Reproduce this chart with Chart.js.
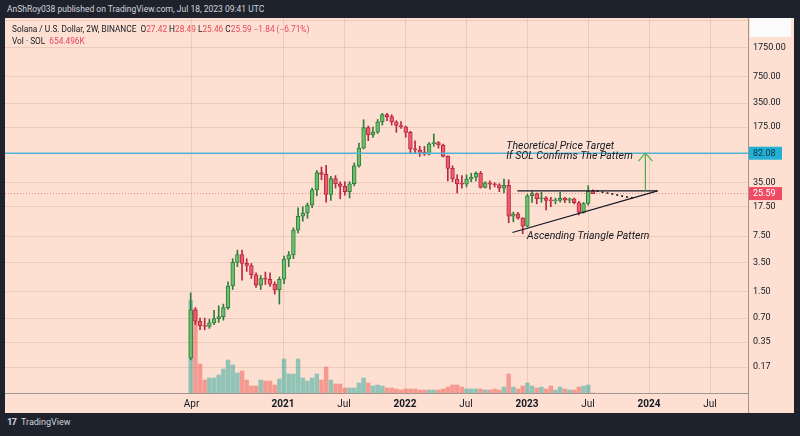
<!DOCTYPE html>
<html>
<head>
<meta charset="utf-8">
<title>SOLUSD 2W</title>
<script src="https://cdn.jsdelivr.net/npm/chart.js@4.4.1/dist/chart.umd.min.js"></script>
<style>
  html, body { margin: 0; padding: 0; }
  body { width: 800px; height: 436px; background: #1e222d; position: relative; overflow: hidden; font-family: Roboto, "Noto Sans", sans-serif; }
  #header { position: absolute; left: 7px; top: 4px; font-size: 8.5px; color: #d1d4dc; white-space: nowrap; }
  #pane { position: absolute; left: 5px; top: 18px; width: 789px; height: 395px; background: #fde0d2; }
  #chart { position: absolute; left: 0; top: 0; }
  #legend { position: absolute; left: 7px; top: 5px; font-size: 8.3px; line-height: 12px; color: #131722; z-index: 2; white-space: nowrap; }
  #legend .dn { color: #e5485d; }
  #logo { position: absolute; left: 7px; top: 416px; font-size: 9px; color: #d1d4dc; }
  #logo b { font-size: 9.5px; margin-right: 3px; letter-spacing: -1px; }
</style>
</head>
<body>
<div id="header">AnShRoy038 published on TradingView.com, Jul 18, 2023 09:41 UTC</div>
<div id="pane">
  <div id="legend"></div>
  <canvas id="chart" width="789" height="395"></canvas>
</div>
<div id="logo"><b>17</b> TradingView</div>
<script>
// Solana / U.S. Dollar, 2W candles, Binance — first candle opens 30 Mar 2020
const firstCandle = Date.UTC(2020, 2, 30);
const twoWeeks = 14 * 24 * 3600 * 1000;

const opens = [
  0.22, 0.89, 0.64, 0.56, 0.55, 0.61, 0.69, 0.73, 0.95, 1.77,
  3.5, 4.4, 3.4, 3.2, 2.45, 1.82, 2.2, 2.15, 1.87, 1.58,
  2.15, 3.85, 4.35, 8.9, 13.3, 14.6, 18.4, 28.5, 47, 44.5,
  25, 39.5, 34, 31.5, 27, 34, 57, 95, 172, 139,
  151, 203, 250, 236, 203, 183, 176, 150, 93, 90,
  84, 80, 108, 112, 104, 75, 53, 39, 34, 33.5,
  39, 41, 46, 30.5, 35, 33.5, 33, 30, 32.5, 13.3,
  14.2, 12.6, 10, 24, 25.5, 22.0, 22.6, 21, 20.7, 21,
  22.3, 21.2, 22.0, 19.6, 14.8, 19.2, 27.42
];
const highs = [
  1.45, 0.95, 0.70, 0.70, 0.68, 0.88, 1.0, 1.05, 2.0, 3.9,
  5.0, 5.0, 3.9, 3.4, 2.6, 2.4, 2.65, 2.6, 2.0, 2.3,
  4.2, 4.8, 9.5, 17, 17.5, 19.5, 30, 50, 55, 58,
  42, 43, 36, 36, 36, 62, 110, 216, 180, 175,
  218, 260, 260, 250, 210, 204, 180, 155, 117, 100,
  100, 112, 143, 115, 107, 76, 57, 44, 43, 44,
  46, 48, 48.5, 36, 37, 35, 34, 38.8, 38, 15,
  14.9, 12.8, 25, 27.1, 26, 26.5, 23.5, 23, 22.5, 26.5,
  23, 22.5, 22.5, 20.5, 19.8, 32.1, 28.49
];
const lows = [
  0.21, 0.58, 0.50, 0.50, 0.52, 0.58, 0.62, 0.66, 0.9, 1.6,
  3.1, 2.1, 2.7, 2.2, 1.7, 1.6, 1.85, 1.75, 1.4, 1.05,
  1.9, 3.1, 3.9, 8.2, 11.5, 12.5, 17, 24, 38, 20,
  21, 30, 22, 24.5, 22.5, 32, 55, 93, 118, 130,
  145, 185, 210, 185, 150, 168, 130, 81, 82, 75,
  77, 78, 100, 95, 74, 37, 36, 26, 30, 31,
  36, 37, 30, 30, 29, 31, 27, 26, 11, 11.3,
  12.2, 8.0, 9.8, 19.8, 19, 19.8, 16, 17.5, 19, 20,
  19.7, 19.5, 19, 13.8, 14.5, 18.3, 25.46
];
const closes = [
  0.89, 0.64, 0.56, 0.55, 0.61, 0.69, 0.73, 0.95, 1.77, 3.5,
  4.4, 3.4, 3.2, 2.45, 1.82, 2.2, 2.15, 1.87, 1.58, 2.15,
  3.85, 4.35, 8.9, 13.3, 14.6, 18.4, 28.5, 47, 44.5, 25,
  39.5, 34, 31.5, 27, 34, 57, 95, 172, 139, 151,
  203, 250, 236, 203, 183, 176, 150, 93, 90, 84,
  80, 108, 112, 104, 75, 53, 39, 34, 33.5, 39,
  41, 46, 30.5, 35, 33.5, 33, 30, 32.5, 13.3, 14.2,
  12.6, 10, 24, 25.5, 22.0, 22.6, 21, 20.7, 21, 22.3,
  21.2, 22.0, 19.6, 14.8, 19.2, 27.43, 25.59
];
// volume, millions of SOL
const volumes = [
  930, 840, 290, 130, 150, 150, 180, 240, 330, 280,
  200, 220, 130, 70, 70, 130, 120, 120, 80, 140,
  340, 190, 190, 340, 150, 120, 150, 190, 130, 260,
  130, 90, 90, 50, 50, 50, 100, 150, 100, 70,
  80, 70, 50, 50, 40, 30, 40, 40, 40, 30,
  30, 30, 30, 30, 40, 60, 80, 80, 60, 40,
  40, 40, 40, 30, 30, 40, 30, 60, 190, 60,
  40, 70, 100, 70, 50, 60, 40, 70, 30, 60,
  40, 30, 30, 60, 70, 80, 0.654496
];

const xTickValues = [2020.25, 2021, 2021.5, 2022, 2022.5, 2023, 2023.5, 2024, 2024.5];
const xTickLabels = ['Apr', '2021', 'Jul', '2022', 'Jul', '2023', 'Jul', '2024', 'Jul'];
const yTickValues = [3750, 1750, 750, 350, 175, 35, 17.5, 7.5, 3.5, 1.5, 0.7, 0.35, 0.17];

// drawings (decimal year, price)
const targetPrice = 82.08;
const triangleTop = [[2022.92, 27.6], [2024.07, 27.6]];
const triangleBase = [[2022.88, 8.3], [2024.07, 27.6]];
const projection = [[2023.57, 27.6], [2023.87, 22.4]];
const targetArrow = [[2023.97, 27.6], [2023.97, targetPrice]];
const notes = [
  { text: 'Theoretical Price Target', x: 2022.83, y: 99 },
  { text: 'If SOL Confirms The Pattern', x: 2022.83, y: 75.5 },
  { text: 'Ascending Triangle Pattern', x: 2023.0, y: 7.5 }
];

function toYear(ms) {
  const y = new Date(ms).getUTCFullYear();
  const s = Date.UTC(y, 0, 1), e = Date.UTC(y + 1, 0, 1);
  return y + (ms - s) / (e - s);
}
const candleX = opens.map((_, i) => toYear(firstCandle + i * twoWeeks));
const up = closes.map((c, i) => c >= opens[i]);

const upFill = '#6cbf6c', upLine = '#2f7d3a';
const dnFill = '#ee5d6c', dnLine = '#b8283f';
const gridColor = 'rgba(150, 95, 70, 0.16)';
const axisColor = '#a0958f';

// legend text from the last candle
const n = closes.length - 1;
const chg = closes[n] - closes[n - 1];
const fmt = v => (v < 0 ? '\u2212' : '+') + Math.abs(v).toFixed(2);
document.getElementById('legend').innerHTML =
  'Solana / U.S. Dollar, 2W, BINANCE&nbsp; O<span class="dn">' + opens[n].toFixed(2) +
  '</span> H<span class="dn">' + highs[n].toFixed(2) +
  '</span> L<span class="dn">' + lows[n].toFixed(2) +
  '</span> C<span class="dn">' + closes[n].toFixed(2) +
  '</span> <span class="dn">' + fmt(chg) + ' (' + fmt(chg / closes[n - 1] * 100) + '%)</span><br>' +
  'Vol · SOL&nbsp; <span class="dn">' + (volumes[n] * 1000).toFixed(3) + 'K</span>';

const overlay = {
  id: 'overlay',
  beforeDatasetsDraw(chart) {
    const { ctx, chartArea: a, scales } = chart;
    const py = scales.y.getPixelForValue(closes[n]);
    ctx.save();
    ctx.strokeStyle = 'rgba(229, 72, 93, 0.6)';
    ctx.lineWidth = 1;
    ctx.setLineDash([1, 2]);
    ctx.beginPath();
    ctx.moveTo(a.left, py);
    ctx.lineTo(a.right, py);
    ctx.stroke();
    ctx.restore();
  },
  afterDatasetsDraw(chart) {
    const { ctx, chartArea: a, scales } = chart;
    const px = v => scales.x.getPixelForValue(v);
    const py = v => scales.y.getPixelForValue(v);
    const line = pts => {
      ctx.beginPath();
      pts.forEach(([x, y], i) => i ? ctx.lineTo(px(x), py(y)) : ctx.moveTo(px(x), py(y)));
      ctx.stroke();
    };
    ctx.save();
    ctx.beginPath();
    ctx.rect(a.left, a.top, a.right - a.left, a.bottom - a.top);
    ctx.clip();

    ctx.strokeStyle = '#52b3d5';
    ctx.lineWidth = 1.5;
    ctx.beginPath();
    ctx.moveTo(a.left, py(targetPrice));
    ctx.lineTo(a.right, py(targetPrice));
    ctx.stroke();

    ctx.strokeStyle = '#131722';
    ctx.lineWidth = 1.2;
    line(triangleTop);
    line(triangleBase);
    ctx.setLineDash([2, 3]);
    ctx.lineWidth = 1.5;
    line(projection);
    ctx.setLineDash([]);

    ctx.strokeStyle = '#4caf50';
    ctx.lineWidth = 1.2;
    line(targetArrow);
    const tx = px(targetArrow[1][0]), ty = py(targetArrow[1][1]);
    ctx.beginPath();
    ctx.moveTo(tx - 7, ty + 8);
    ctx.lineTo(tx, ty);
    ctx.lineTo(tx + 7, ty + 8);
    ctx.stroke();

    ctx.fillStyle = '#131722';
    ctx.font = 'italic 10.5px Roboto';
    ctx.textBaseline = 'middle';
    notes.forEach(t => ctx.fillText(t.text, px(t.x), py(t.y)));
    ctx.restore();
  },
  afterDraw(chart) {
    const { ctx, chartArea: a, scales, height } = chart;
    ctx.save();
    ctx.strokeStyle = axisColor;
    ctx.lineWidth = 1;
    ctx.beginPath();
    ctx.moveTo(a.right + 0.5, a.bottom);
    ctx.lineTo(a.right + 0.5, height);
    ctx.stroke();
    ctx.fillStyle = '#fbfbfb';
    ctx.fillRect(a.right + 2, 0, 41, 19);
    const tag = (v, bg, fg) => {
      const y = scales.y.getPixelForValue(v);
      ctx.fillStyle = bg;
      ctx.fillRect(a.right + 1, y - 6.5, 33, 13);
      ctx.fillStyle = fg;
      ctx.font = '9px Roboto';
      ctx.textBaseline = 'middle';
      ctx.fillText(v.toFixed(2), a.right + 5, y + 0.5);
    };
    tag(targetPrice, '#22b1d4', '#0b3242');
    tag(closes[n], '#ef4b62', '#ffffff');
    ctx.restore();
  }
};

new Chart(document.getElementById('chart'), {
  type: 'bar',
  data: {
    datasets: [
      {
        label: 'Volume',
        yAxisID: 'vol',
        data: candleX.map((x, i) => ({ x, y: volumes[i] })),
        backgroundColor: up.map(u => u ? 'rgba(38, 166, 154, 0.5)' : 'rgba(239, 83, 80, 0.5)'),
        barThickness: 3.8,
        grouped: false,
        order: 3
      },
      {
        label: 'Wick',
        yAxisID: 'y',
        data: candleX.map((x, i) => ({ x, y: [lows[i], highs[i]] })),
        backgroundColor: up.map(u => u ? upLine : dnLine),
        barThickness: 1,
        grouped: false,
        order: 2
      },
      {
        label: 'Body',
        yAxisID: 'y',
        data: candleX.map((x, i) => ({ x, y: [opens[i], closes[i]] })),
        backgroundColor: up.map(u => u ? upFill : dnFill),
        borderColor: up.map(u => u ? upLine : dnLine),
        borderWidth: 1,
        borderSkipped: false,
        minBarLength: 1,
        barThickness: 3.8,
        grouped: false,
        order: 1
      }
    ]
  },
  options: {
    responsive: false,
    animation: false,
    devicePixelRatio: 1,
    layout: { padding: 0 },
    plugins: { legend: { display: false }, tooltip: { enabled: false } },
    scales: {
      x: {
        type: 'linear',
        min: 2018.721,
        max: 2024.811,
        offset: false,
        grid: { offset: false, color: gridColor, drawTicks: false },
        border: { color: axisColor },
        ticks: {
          autoSkip: false,
          maxRotation: 0,
          padding: 5,
          color: '#131722',
          font: c => ({ family: 'Roboto', size: 10, weight: /^\d{4}$/.test(xTickLabels[c.index]) ? 'bold' : 'normal' }),
          callback: (v, i) => xTickLabels[i]
        },
        afterBuildTicks: s => { s.ticks = xTickValues.map(v => ({ value: v })); },
        afterFit: s => { s.height = 20; s.paddingLeft = 0; s.paddingRight = 0; }
      },
      y: {
        type: 'logarithmic',
        position: 'right',
        min: 0.0805,
        max: 4081,
        grid: { color: gridColor, drawTicks: false },
        border: { color: axisColor },
        ticks: {
          autoSkip: false,
          padding: 5,
          color: '#131722',
          font: { family: 'Roboto', size: 9 },
          callback: v => Number(v).toFixed(2)
        },
        afterBuildTicks: s => { s.ticks = yTickValues.map(v => ({ value: v })); },
        afterFit: s => { s.width = 46; s.paddingTop = 0; s.paddingBottom = 0; }
      },
      vol: {
        type: 'linear',
        display: false,
        min: 0,
        max: 3750,
        grid: { display: false }
      }
    }
  },
  plugins: [overlay]
});
</script>
</body>
</html>
